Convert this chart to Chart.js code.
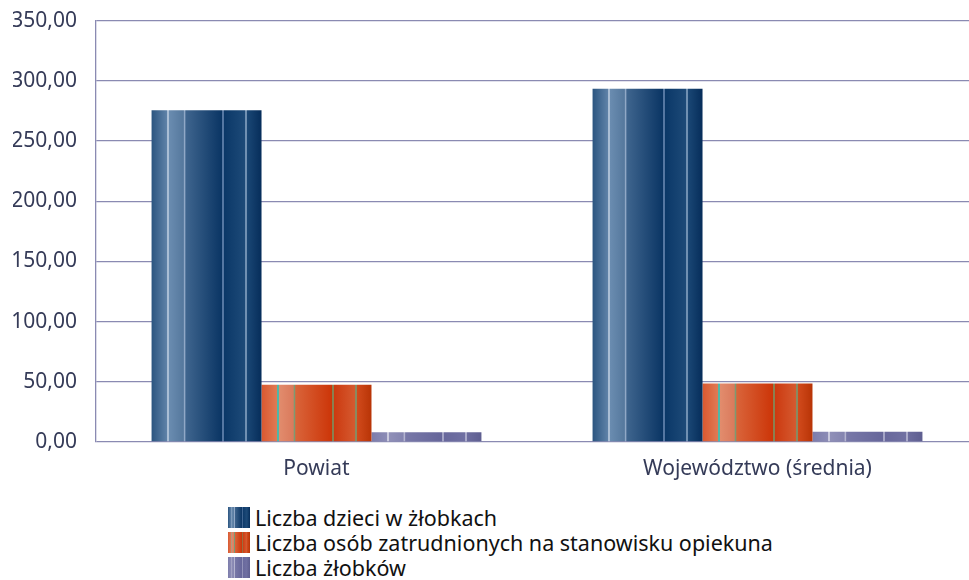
<!DOCTYPE html>
<html>
<head>
<meta charset="utf-8">
<script src="https://cdn.jsdelivr.net/npm/chart.js@4"></script>
<style>
  html, body { margin: 0; padding: 0; background: #fff; overflow: hidden; }
  body { width: 969px; height: 580px; position: relative; }
  #wrap { position: absolute; left: 0; top: -11px; width: 978px; height: 495px; }
  #legend { position: absolute; left: 228px; top: 505px; font-family: 'Noto Sans', sans-serif; font-size: 21.5px; color: #111; }
  .item { display: flex; align-items: center; height: 25px; }
  .sw { width: 22px; height: 21px; margin-right: 5px; flex: none; }
</style>
</head>
<body>
<div id="wrap"><canvas id="c"></canvas></div>
<div id="legend"></div>
<script>
// ---- data ----
const categories = ['Powiat', 'Województwo (średnia)'];
const seriesNames = ['Liczba dzieci w żłobkach', 'Liczba osób zatrudnionych na stanowisku opiekuna', 'Liczba żłobków'];
const dzieci = [275.5, 293.5];
const opiekunowie = [47.5, 48.5];
const zlobki = [8.0, 8.5];
const yTicks = [0, 50, 100, 150, 200, 250, 300, 350];

// ---- styling ----
const catPct = 0.748;
const palettes = [
  [ // blue
    [0, '#2b5580'], [0.14, '#5f82a8'], [0.144, '#aabed5'], [0.157, '#aabed5'], [0.16, '#6a8cb0'],
    [0.29, '#55789d'], [0.293, '#90a8c6'], [0.306, '#90a8c6'], [0.31, '#3f658e'],
    [0.64, '#0a3564'], [0.645, '#5577a2'], [0.658, '#5577a2'], [0.662, '#0b3868'],
    [0.85, '#1d4a78'], [0.853, '#7090b2'], [0.866, '#7090b2'], [0.87, '#1a4775'], [1, '#062d5a']
  ],
  [ // orange
    [0, '#d9582f'], [0.14, '#e07a55'], [0.144, '#4fb8a8'], [0.157, '#4fb8a8'], [0.16, '#e28c6d'],
    [0.29, '#da7a5c'], [0.293, '#7c9a72'], [0.306, '#7c9a72'], [0.31, '#d9643a'],
    [0.64, '#cc3508'], [0.645, '#8a8050'], [0.658, '#8a8050'], [0.662, '#cc3a10'],
    [0.85, '#d55a30'], [0.853, '#8a8a60'], [0.866, '#8a8a60'], [0.87, '#d14a1c'], [1, '#b83406']
  ],
  [ // purple
    [0, '#7c7cab'], [0.14, '#8c8cb6'], [0.144, '#cacade'], [0.157, '#cacade'], [0.16, '#9090b8'],
    [0.29, '#8484b0'], [0.293, '#b4b4d0'], [0.306, '#b4b4d0'], [0.31, '#7878a8'],
    [0.64, '#66669a'], [0.645, '#a4a4c6'], [0.658, '#a4a4c6'], [0.662, '#68689c'],
    [0.85, '#7070a2'], [0.853, '#aaaaca'], [0.866, '#aaaaca'], [0.87, '#6c6c9e'], [1, '#5e5e90']
  ]
];

function barFill(ctx) {
  const chart = ctx.chart;
  const ds = ctx.datasetIndex;
  const fallback = palettes[ds][0][1];
  if (!chart.chartArea || ctx.dataIndex === undefined) return fallback;
  const xs = chart.scales.x;
  const center = xs.getPixelForValue(ctx.dataIndex);
  const catW = xs.width / categories.length;
  const groupW = catW * catPct;
  const barW = groupW / 3;
  const left = center - groupW / 2 + ds * barW;
  const g = chart.ctx.createLinearGradient(left, 0, left + barW, 0);
  palettes[ds].forEach(([o, c]) => g.addColorStop(o, c));
  return g;
}

const gridColor = '#8a8ab2';
const tickColor = '#353b58';

Chart.defaults.font.family = "'Noto Sans', sans-serif";
Chart.defaults.font.size = 21;

const chart = new Chart(document.getElementById('c'), {
  type: 'bar',
  data: {
    labels: categories,
    datasets: [
      { label: seriesNames[0], data: dzieci, backgroundColor: barFill },
      { label: seriesNames[1], data: opiekunowie, backgroundColor: barFill },
      { label: seriesNames[2], data: zlobki, backgroundColor: barFill }
    ]
  },
  options: {
    responsive: true,
    maintainAspectRatio: false,
    animation: false,
    layout: { padding: { left: 13, top: 0, right: 0, bottom: 2 } },
    datasets: { bar: { categoryPercentage: catPct, barPercentage: 1, borderWidth: 0 } },
    plugins: { legend: { display: false }, tooltip: { enabled: false } },
    scales: {
      x: {
        grid: { display: false, drawTicks: false },
        border: { display: false },
        ticks: { color: tickColor, padding: 14, maxRotation: 0 },
        afterFit: (s) => { s.height = 40; }
      },
      y: {
        min: 0, max: 350,
        afterBuildTicks: (axis) => { axis.ticks = yTicks.map(v => ({ value: v })); },
        afterFit: (s) => { s.width = 83; },
        grid: { color: gridColor, lineWidth: 1.3, drawTicks: false },
        border: { display: true, color: gridColor, width: 1.3 },
        ticks: {
          color: tickColor, padding: 19,
          callback: (v) => Number(v).toFixed(2).replace('.', ',')
        }
      }
    }
  }
});

// HTML legend
const leg = document.getElementById('legend');
seriesNames.forEach((name, i) => {
  const item = document.createElement('div');
  item.className = 'item';
  const sw = document.createElement('div');
  sw.className = 'sw';
  sw.style.background = 'linear-gradient(to right, ' + palettes[i].map(([o, c]) => c + ' ' + (o * 100).toFixed(1) + '%').join(', ') + ')';
  const t = document.createElement('span');
  t.textContent = name;
  item.appendChild(sw);
  item.appendChild(t);
  leg.appendChild(item);
});
</script>
</body>
</html>
